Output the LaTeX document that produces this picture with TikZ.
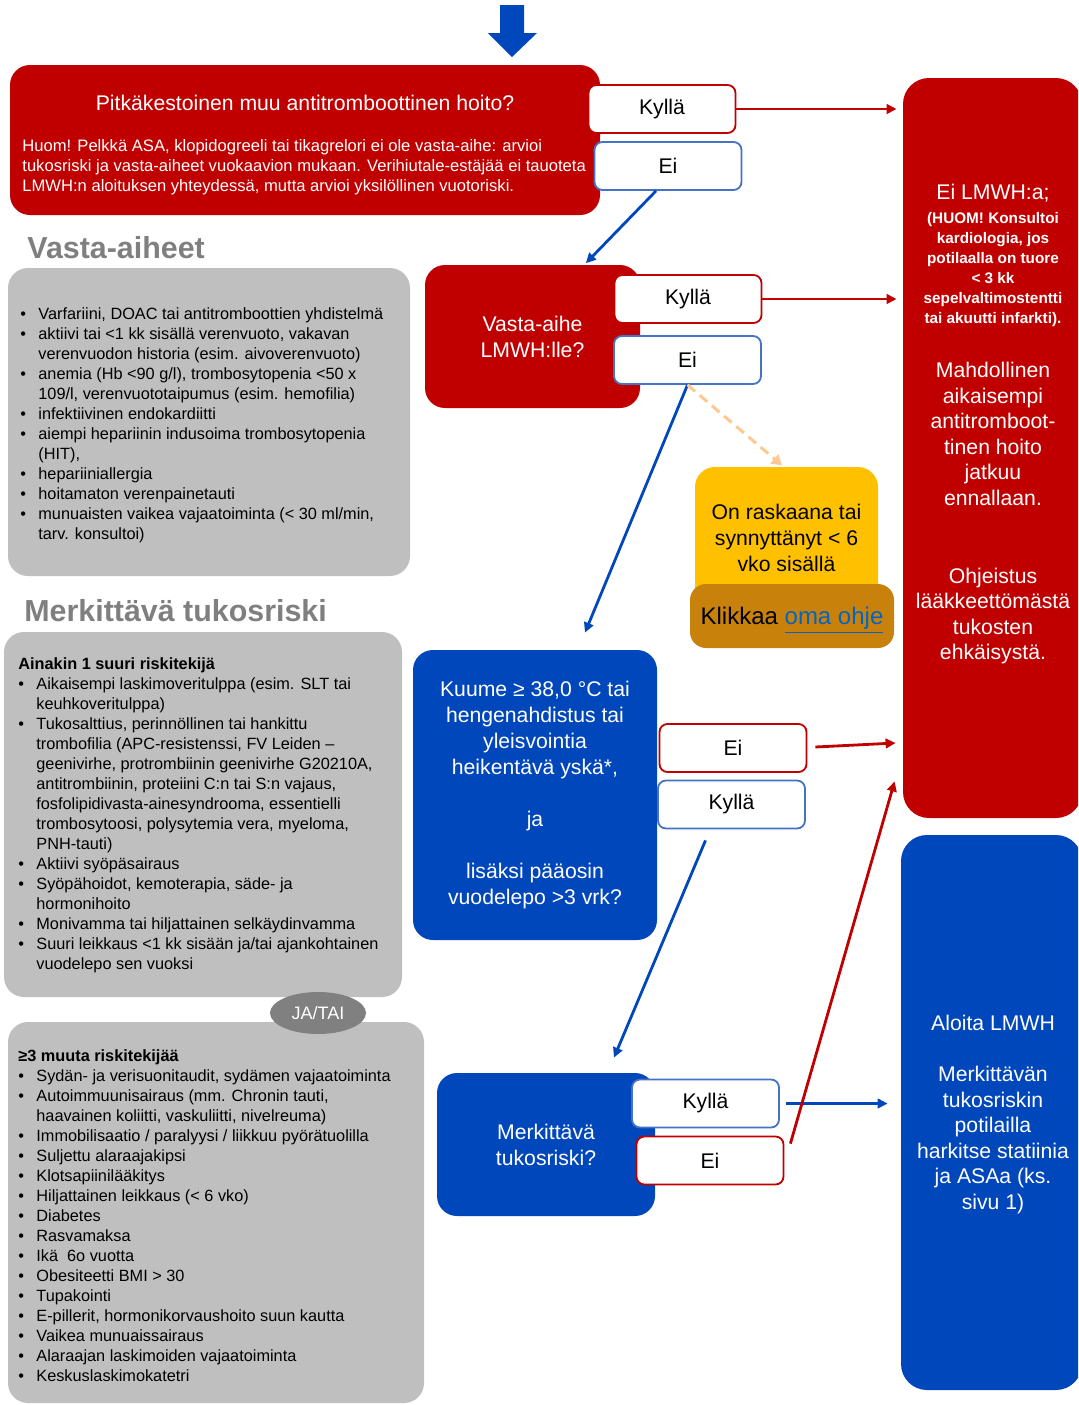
\documentclass[tikz,border=0pt]{standalone}
\usepackage{fontspec}
\setmainfont{Liberation Sans}
\usetikzlibrary{arrows.meta,positioning,shapes.geometric}

\definecolor{fcRed}{HTML}{C00000}
\definecolor{fcBlue}{HTML}{0047BB}
\definecolor{fcEdge}{HTML}{4472C4}
\definecolor{fcGrey}{HTML}{BFBFBF}
\definecolor{fcHead}{HTML}{7F7F7F}
\definecolor{fcOval}{HTML}{808080}
\definecolor{fcYellow}{HTML}{FFC000}
\definecolor{fcOchre}{HTML}{C8820C}
\definecolor{fcLink}{HTML}{0563C1}
\definecolor{fcPeach}{HTML}{FFC891}

\newcommand{\kohta}{\makebox[9pt][l]{\textbullet}}
\newcommand{\jatko}{\hspace*{9pt}}

\begin{document}
\begin{tikzpicture}[
  x=0.5pt, y=-0.5pt,
  font=\fontsize{10.6}{13}\selectfont,
  flowbox/.style={rounded corners=10pt, text=white, align=center, inner sep=0pt},
  redbox/.style={flowbox, fill=fcRed},
  bluebox/.style={flowbox, fill=fcBlue},
  greybox/.style={fill=fcGrey, rounded corners=10pt, inner sep=0pt},
  answer/.style={fill=white, line width=0.9pt, rounded corners=4pt,
    minimum width=73.5pt, minimum height=24pt, inner sep=0pt},
  ansred/.style={answer, draw=fcRed},
  ansblue/.style={answer, draw=fcEdge},
  link/.style={line width=1.4pt, -{Triangle[length=5pt, width=4.8pt]}},
  redlink/.style={link, draw=fcRed},
  bluelink/.style={link, draw=fcBlue},
  dashlink/.style={line width=1.5pt, draw=fcPeach, dash pattern=on 5pt off 3pt,
    -{Triangle[length=5pt, width=6pt]}},
  listing/.style={font=\fontsize{8.15}{10}\selectfont, align=left,
    anchor=north west, inner sep=0pt},
  heading/.style={font=\fontsize{15.2}{18}\selectfont\bfseries, text=fcHead,
    anchor=west, inner sep=0pt},
]
  \useasboundingbox (0,0) rectangle (1078,1405);
  \clip (0,0) rectangle (1078,1405);

  % entry
  \fill[fcBlue] (500,5) -- (524,5) -- (524,33) -- (537,33) -- (512,57)
    -- (488,33) -- (500,33) -- cycle;

  % long-term antithrombotic treatment
  \node[redbox, minimum width=295pt, minimum height=75pt] (hoito) at (305,140) {};
  \node[text=white] (hoitoTitle) at (305,103)
    {Pitkäkestoinen muu antitromboottinen hoito?};
  \node[listing, text=white, font=\fontsize{8.3}{10}\selectfont] (hoitoNote) at (22,139)
    {Huom! Pelkkä ASA, klopidogreeli tai tikagrelori ei ole vasta-aihe: arvioi\\
     tukosriski ja vasta-aiheet vuokaavion mukaan. Verihiutale-estäjää ei tauoteta\\
     LMWH:n aloituksen yhteydessä, mutta arvioi yksilöllinen vuotoriski.};
  \node[ansred] (kylla1) at (662,109) {Kyllä};
  \node[ansblue] (ei1) at (668,166) {Ei};

  % outcomes on the right
  \node[redbox, minimum width=89.5pt, minimum height=370pt, rounded corners=13pt]
    (eiLmwh) at (992.5,448) {};
  \node[text=white] (eiLmwhTitle) at (993,193) {Ei LMWH:a;};
  \node[text=white, align=center, font=\fontsize{7.65}{10}\selectfont\bfseries]
    (eiLmwhHuom) at (993,270)
    {(HUOM! Konsultoi\\kardiologia, jos\\potilaalla on tuore\\< 3 kk\\
     sepelvaltimostentti\\tai akuutti infarkti).};
  \node[text=white, align=center, font=\fontsize{10.6}{12.8}\selectfont]
    (eiLmwhJatko) at (993,434)
    {Mahdollinen\\aikaisempi\\antitromboot-\\tinen hoito\\jatkuu\\ennallaan.};
  \node[text=white, align=center, font=\fontsize{10.6}{12.8}\selectfont]
    (eiLmwhOhje) at (993,616)
    {Ohjeistus\\lääkkeettömästä\\tukosten\\ehkäisystä.};

  \node[bluebox, minimum width=90.5pt, minimum height=277.5pt, rounded corners=13pt]
    (aloita) at (991.5,1112.5) {};
  \node[text=white] (aloitaTitle) at (993,1023) {Aloita LMWH};
  \node[text=white, align=center, font=\fontsize{10.6}{12.8}\selectfont]
    (aloitaText) at (993,1140)
    {Merkittävän\\tukosriskin\\potilailla\\harkitse statiinia\\ja ASAa (ks.\\sivu 1)};

  % contraindication
  \node[redbox, minimum width=107.5pt, minimum height=71.5pt] (vasta) at (532.5,336.5)
    {Vasta-aihe\\LMWH:lle?};
  \node[ansred] (kylla2) at (688,299) {Kyllä};
  \node[ansblue] (ei2) at (687.5,360) {Ei};

  % pregnancy
  \node[fill=fcYellow, rounded corners=10pt, minimum width=91.5pt, minimum height=70.5pt,
    align=center, inner sep=0pt] (raskaus) at (786.5,537.5)
    {On raskaana tai\\synnyttänyt < 6\\vko sisällä};
  \node[fill=fcOchre, rounded corners=8pt, minimum width=102pt, minimum height=32pt,
    inner sep=0pt, text depth=0pt, font=\fontsize{12}{14}\selectfont] (klikkaa) at (792,616)
    {Klikkaa \textcolor{fcLink}{\underline{oma ohje}}};

  % symptoms
  \node[bluebox, minimum width=122pt, minimum height=145pt] (kuume) at (535,795)
    {Kuume ≥ 38,0 °C tai\\hengenahdistus tai\\yleisvointia\\heikentävä yskä*,\\[13pt]
     ja\\[13pt]lisäksi pääosin\\vuodelepo >3 vrk?};
  \node[ansred] (ei3) at (733,748) {Ei};
  \node[ansblue] (kylla3) at (731.5,804.5) {Kyllä};

  % significant risk
  \node[bluebox, minimum width=109pt, minimum height=71.5pt] (merk) at (546,1144.5)
    {Merkittävä\\tukosriski?};
  \node[ansblue] (kylla4) at (705.5,1103.5) {Kyllä};
  \node[ansred] (ei4) at (710,1160.5) {Ei};

  % contraindication list
  \node[heading] (vastaHead) at (27,248) {Vasta-aiheet};
  \node[greybox, minimum width=201pt, minimum height=154pt] (vastaBox) at (209,422) {};
  \node[listing] (vastaList) at (20,307)
    {\kohta Varfariini, DOAC tai antitromboottien yhdistelmä\\
     \kohta aktiivi tai <1 kk sisällä verenvuoto, vakavan\\
     \jatko verenvuodon historia (esim. aivoverenvuoto)\\
     \kohta anemia (Hb <90 g/l), trombosytopenia <50 x\\
     \jatko 109/l, verenvuototaipumus (esim. hemofilia)\\
     \kohta infektiivinen endokardiitti\\
     \kohta aiempi hepariinin indusoima trombosytopenia\\
     \jatko (HIT),\\
     \kohta hepariiniallergia\\
     \kohta hoitamaton verenpainetauti\\
     \kohta munuaisten vaikea vajaatoiminta (< 30 ml/min,\\
     \jatko tarv. konsultoi)};

  % risk lists
  \node[heading] (merkHead) at (24,611) {Merkittävä tukosriski};
  \node[greybox, minimum width=199pt, minimum height=182.5pt] (suuriBox) at (203,814.5) {};
  \node[listing] (suuriList) at (18,657)
    {\textbf{Ainakin 1 suuri riskitekijä}\\
     \kohta Aikaisempi laskimoveritulppa (esim. SLT tai\\
     \jatko keuhkoveritulppa)\\
     \kohta Tukosalttius, perinnöllinen tai hankittu\\
     \jatko trombofilia (APC-resistenssi, FV Leiden –\\
     \jatko geenivirhe, protrombiinin geenivirhe G20210A,\\
     \jatko antitrombiinin, proteiini C:n tai S:n vajaus,\\
     \jatko fosfolipidivasta-ainesyndrooma, essentielli\\
     \jatko trombosytoosi, polysytemia vera, myeloma,\\
     \jatko PNH-tauti)\\
     \kohta Aktiivi syöpäsairaus\\
     \kohta Syöpähoidot, kemoterapia, säde- ja\\
     \jatko hormonihoito\\
     \kohta Monivamma tai hiljattainen selkäydinvamma\\
     \kohta Suuri leikkaus <1 kk sisään ja/tai ajankohtainen\\
     \jatko vuodelepo sen vuoksi};

  \node[greybox, minimum width=208pt, minimum height=190.5pt] (muutBox) at (216,1212.5) {};
  \node[listing] (muutList) at (18,1049)
    {\textbf{≥3 muuta riskitekijää}\\
     \kohta Sydän- ja verisuonitaudit, sydämen vajaatoiminta\\
     \kohta Autoimmuunisairaus (mm. Chronin tauti,\\
     \jatko haavainen koliitti, vaskuliitti, nivelreuma)\\
     \kohta Immobilisaatio / paralyysi / liikkuu pyörätuolilla\\
     \kohta Suljettu alaraajakipsi\\
     \kohta Klotsapiinilääkitys\\
     \kohta Hiljattainen leikkaus (< 6 vko)\\
     \kohta Diabetes\\
     \kohta Rasvamaksa\\
     \kohta Ikä \ 6o vuotta\\
     \kohta Obesiteetti BMI > 30\\
     \kohta Tupakointi\\
     \kohta E-pillerit, hormonikorvaushoito suun kautta\\
     \kohta Vaikea munuaissairaus\\
     \kohta Alaraajan laskimoiden vajaatoiminta\\
     \kohta Keskuslaskimokatetri};
  \node[ellipse, fill=fcOval, text=white, minimum width=48pt, minimum height=21pt,
    inner sep=0pt, font=\fontsize{9}{11}\selectfont] (jatai) at (318,1013) {JA/TAI};

  % connectors
  \draw[redlink, shorten >=3pt] (kylla1.east) -- (kylla1.east -| eiLmwh.west);
  \draw[redlink, shorten >=3pt] (kylla2.east) -- (kylla2.east -| eiLmwh.west);
  \draw[bluelink, shorten >=1pt] ([xshift=-6pt]ei1.south) -- ([xshift=26pt]vasta.north);
  \draw[bluelink] (ei2.south) -- ([xshift=25pt, yshift=8.5pt]kuume.north);
  \draw[dashlink, shorten >=1pt] (ei2.south) -- ([xshift=-1.5pt]raskaus.north);
  \draw[redlink] ([xshift=4pt, yshift=0.5pt]ei3.east)
    -- ([xshift=-3.5pt, yshift=2.5pt]ei3.east -| eiLmwh.west);
  \draw[bluelink] ([xshift=-13pt, yshift=-5.5pt]kylla3.south)
    -- ([xshift=34pt, yshift=7.5pt]merk.north);
  \draw[bluelink, shorten >=6.5pt] ([xshift=3pt]kylla4.east) -- (kylla4.east -| aloita.west);
  \draw[redlink] ([xshift=3pt, yshift=-4pt]ei4.north east)
    -- ([xshift=-4pt, yshift=18.5pt]eiLmwh.south west);
\end{tikzpicture}
\end{document}
